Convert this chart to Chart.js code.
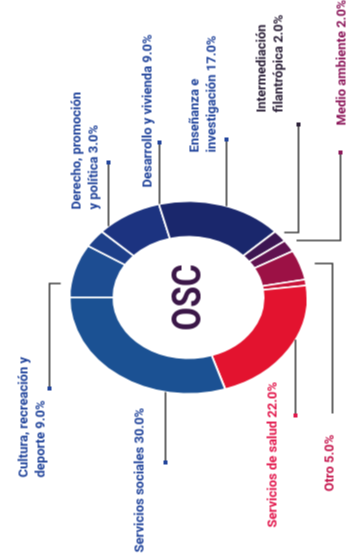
<!DOCTYPE html>
<html>
<head>
<meta charset="utf-8">
<script src="https://cdn.jsdelivr.net/npm/chart.js@4"></script>
<style>
  html, body { margin: 0; padding: 0; background: #fff; overflow: hidden; }
  #wrap { position: relative; width: 348px; height: 557px; overflow: hidden; }
  #oscChart { position: absolute; left: -104.5px; top: 104.5px; transform: rotate(-90deg); }
</style>
</head>
<body>
<div id="wrap"><canvas id="oscChart" width="557" height="348"></canvas></div>
<script>
// Distribución de las OSC por área de actividad (%)
const categories = [
    "Cultura, recreación y deporte",
    "Derecho, promoción y política",
    "Desarrollo y vivienda",
    "Enseñanza e investigación",
    "Intermediación filantrópica",
    "Medio ambiente",
    "Otro",
    "Sin especificar",
    "Servicios de salud",
    "Servicios sociales"
];
const shares = [9, 3, 9, 17, 2, 2, 5, 1, 22, 30];
const centerTitle = "OSC";

const sliceColors = ["#1d4d92", "#1d3f89", "#1c3380", "#1a276c", "#3d1652", "#611250", "#9c1145", "#c81338", "#e3132f", "#1b5193"];
const labelColors = ["#21449b", "#21449b", "#21449b", "#21449b", "#2b2038", "#8c175a", "#c5164d", null, "#e2174c", "#21449b"];

// el original está aplastado: el anillo es una elipse
const SX = 0.81;

// posiciones de etiquetas en el marco "legible" (antes de girar el lienzo)
const labelLayout = [
    { i: 0, x: 80,  y: 24,  words: 3, marker: [169, 49],  route: [[274, 49]],  dir: "v", gap: 10 },
    { i: 1, x: 348, y: 77,  words: 2, marker: [395, 108], route: [],           dir: "h", gap: 0 },
    { i: 2, x: 370, y: 148,           marker: [415, 159], route: [],           dir: "h", gap: 0 },
    { i: 3, x: 405, y: 195, words: 2, marker: [418, 226], route: [],           dir: "h", gap: 0 },
    { i: 4, x: 445, y: 262, words: 1, marker: [433, 298], route: [[325, 298]], dir: "v", gap: 8 },
    { i: 5, x: 432, y: 342,           marker: [405, 340], route: [[317, 340]], dir: "v", gap: 12 },
    { i: 6, x: 66,  y: 330,           start:  [144, 332], route: [[294, 332]], dir: "v", gap: 15 },
    { i: 8, x: 30,  y: 273,           marker: [142, 295], route: [],           dir: "h", gap: 0 },
    { i: 9, x: 5,   y: 140,           marker: [95, 165],  route: [],           dir: "h", gap: 0 }
];

const FONT = "bold 13px Roboto";
const LINE_H = 17;

const ellipsePlugin = {
    id: "ellipse",
    beforeDatasetsDraw(chart) {
        const a = chart.getDatasetMeta(0).data[0];
        const ctx = chart.ctx;
        ctx.save();
        ctx.translate(a.x, a.y);
        ctx.scale(SX, 1);
        ctx.translate(-a.x, -a.y);
    },
    afterDatasetsDraw(chart) {
        chart.ctx.restore();
    }
};

const calloutPlugin = {
    id: "callouts",
    afterDraw(chart) {
        const ctx = chart.ctx;
        const a = chart.getDatasetMeta(0).data[0];
        const cx = a.x, cy = a.y, ry = a.outerRadius, rx = a.outerRadius * SX;

        // hasta el borde del anillo
        const toRing = (p, dir, gap) => {
            if (dir === "h") {
                const t = (p[1] - cy) / ry;
                const w = rx * Math.sqrt(Math.max(0, 1 - t * t));
                return [p[0] < cx ? cx - w - gap : cx + w + gap, p[1]];
            }
            const t = (p[0] - cx) / rx;
            const h = ry * Math.sqrt(Math.max(0, 1 - t * t));
            return [p[0], p[1] < cy ? cy - h - gap : cy + h + gap];
        };

        ctx.save();
        labelLayout.forEach(l => {
            const color = labelColors[l.i];
            const start = l.marker || l.start;
            const pts = [start, ...l.route];
            pts.push(toRing(pts[pts.length - 1], l.dir, l.gap));

            ctx.strokeStyle = "#333333";
            ctx.lineWidth = 1.4;
            ctx.beginPath();
            pts.forEach((p, k) => k ? ctx.lineTo(p[0], p[1]) : ctx.moveTo(p[0], p[1]));
            ctx.stroke();

            if (l.marker) {
                ctx.fillStyle = color;
                ctx.fillRect(l.marker[0] - 2, l.marker[1] - 2, 4, 4);
            }

            const text = categories[l.i] + " " + shares[l.i].toFixed(1) + "%";
            const words = text.split(" ");
            const lines = l.words ? [words.slice(0, l.words).join(" "), words.slice(l.words).join(" ")] : [text];
            ctx.font = FONT;
            ctx.fillStyle = color;
            ctx.textAlign = "left";
            ctx.textBaseline = "middle";
            lines.forEach((s, k) => ctx.fillText(s, l.x, l.y + k * LINE_H));
        });

        // título central
        ctx.translate(cx, cy);
        ctx.scale(0.85, 1);
        ctx.fillStyle = "#3b1748";
        ctx.font = "bold 40px Roboto";
        ctx.textAlign = "center";
        ctx.textBaseline = "middle";
        ctx.fillText(centerTitle, 0, 2);
        ctx.restore();
    }
};

new Chart(document.getElementById("oscChart"), {
    type: "doughnut",
    data: {
        labels: categories,
        datasets: [{
            data: shares,
            backgroundColor: sliceColors,
            borderColor: "#ffffff",
            borderWidth: 2
        }]
    },
    options: {
        responsive: false,
        animation: false,
        cutout: "63%",
        rotation: 0,
        layout: { padding: { left: 140, right: 177, top: 68, bottom: 40 } },
        plugins: { legend: { display: false }, tooltip: { enabled: false } }
    },
    plugins: [ellipsePlugin, calloutPlugin]
});
</script>
</body>
</html>
